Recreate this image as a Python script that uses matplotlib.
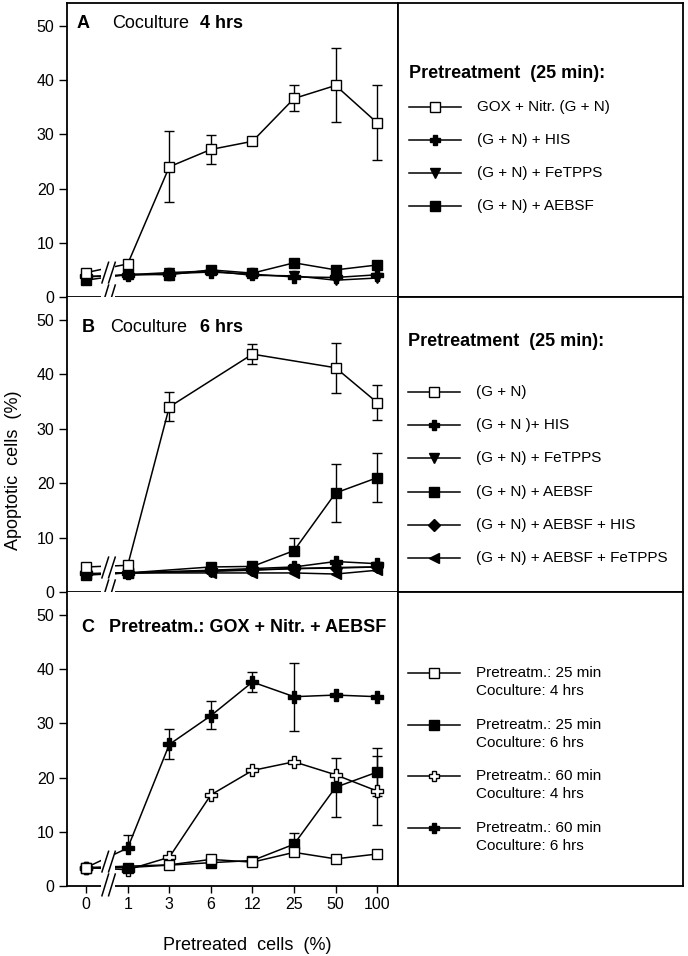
import matplotlib
matplotlib.use("Agg")
import matplotlib.pyplot as plt
from matplotlib.patches import Rectangle
import numpy as np

plt.rcParams['font.family'] = ['Liberation Sans', 'DejaVu Sans']

nan = np.nan
xlabels = ["0", "1", "3", "6", "12", "25", "50", "100"]

# Panel A: coculture 4 hrs
a_gn = [4.5, 6.1, 24.0, 27.2, 28.7, 36.6, 39.0, 32.1]
a_gn_lo = [nan, nan, 17.5, 24.6, nan, 34.3, 32.2, 25.2]
a_gn_hi = [nan, nan, 30.6, 29.8, nan, 39.0, 45.9, 39.0]
a_his = [3.8, 4.0, 4.3, 4.6, 4.2, 3.7, 3.6, 4.1]
a_fetpps = [3.7, 4.1, 4.5, 4.8, 4.0, 3.9, 3.1, 3.5]
a_aebsf = [3.1, 4.2, 4.1, 5.0, 4.4, 6.3, 5.0, 5.9]

# Panel B: coculture 6 hrs
b_gn = [4.6, 4.9, 34.0, nan, 43.7, nan, 41.2, 34.8]
b_gn_lo = [nan, nan, 31.4, nan, 41.9, nan, 36.6, 31.6]
b_gn_hi = [nan, nan, 36.7, nan, 45.5, nan, 45.8, 38.1]
b_his = [3.4, 3.5, nan, 4.0, 4.3, 4.6, 5.6, 5.2]
b_fetpps = [3.2, 3.5, nan, 3.8, 4.0, 4.3, 4.4, 4.6]
b_aebsf = [3.1, 3.5, nan, 4.6, 4.7, 7.6, 18.2, 21.0]
b_aebsf_lo = [nan, nan, nan, nan, nan, nan, 12.8, 16.5]
b_aebsf_hi = [nan, nan, nan, nan, nan, 10.0, 23.6, 25.5]
b_aebsf_his = [3.3, 3.5, nan, 3.9, 4.1, 4.3, 4.5, 4.6]
b_aebsf_fetpps = [3.3, 3.5, nan, 3.5, 3.5, 3.5, 3.3, 4.0]

# Panel C: GOX + Nitr. + AEBSF
c_25_4 = [3.4, nan, 3.9, 4.9, 4.4, 6.2, 5.0, 5.9]
c_25_6 = [3.3, 3.4, nan, 4.3, 4.7, 7.7, 18.2, 21.0]
c_25_6_lo = [nan, nan, nan, nan, nan, nan, 12.7, 16.5]
c_25_6_hi = [nan, nan, nan, nan, nan, 9.8, 23.6, 25.4]
c_60_4 = [3.4, 3.0, 5.3, 16.8, 21.3, 22.9, 20.5, 17.5]
c_60_4_lo = [nan, nan, nan, nan, nan, nan, nan, 11.2]
c_60_4_hi = [nan, nan, nan, nan, nan, nan, nan, 24.0]
c_60_6 = [3.4, 7.0, 26.1, 31.4, 37.6, 34.9, 35.2, 34.9]
c_60_6_lo = [nan, nan, 23.5, 29.0, 35.7, 28.6, nan, nan]
c_60_6_hi = [nan, 9.4, 29.0, 34.1, 39.5, 41.2, nan, nan]

W, H = 688, 956
fig = plt.figure(figsize=(W / 100, H / 100), dpi=100)


def box(l, t, r, b):
    return [l / W, 1 - b / H, (r - l) / W, (b - t) / H]


STY = {
    'open_sq': dict(marker='s', mfc='white', ms=7.5),
    'sq': dict(marker='s', mfc='black', ms=7.5),
    'cross': dict(marker='P', mfc='black', ms=8.5),
    'open_cross': dict(marker='P', mfc='white', ms=8.5),
    'tri_down': dict(marker='v', mfc='black', ms=7.5),
    'diamond': dict(marker='D', mfc='black', ms=6.5),
    'tri_left': dict(marker='<', mfc='black', ms=7.5),
}


def series(ax, y, style, lo=None, hi=None):
    y = np.array(y, dtype=float)
    x = np.arange(len(y))
    m = np.isfinite(y)
    if lo is not None:
        lo = np.array(lo, dtype=float)
        hi = np.array(hi, dtype=float)
        dlo = np.where(np.isfinite(lo), y - lo, 0)
        dhi = np.where(np.isfinite(hi), hi - y, 0)
        e = np.isfinite(lo) | np.isfinite(hi)
        ax.errorbar(x[e], y[e], yerr=[dlo[e], dhi[e]], fmt='none', ecolor='k',
                    elinewidth=1.0, capsize=3.5, capthick=1.0, zorder=2)
    ax.plot(x[m], y[m], color='k', lw=1.1, mec='k', mew=1.0, zorder=3,
            **STY[style])


def setup(ax, top_spine=True, labels=False):
    ax.set_xlim(-0.46, 7.5)
    ax.set_ylim(0, 54.2)
    ax.set_xticks(range(len(xlabels)))
    ax.set_xticklabels(xlabels if labels else [])
    ax.set_yticks([0, 10, 20, 30, 40, 50])
    ax.tick_params(direction='out', length=5, width=1.0, labelsize=11.5, pad=3)
    ax.tick_params(axis='y', length=6)
    for s in ax.spines.values():
        s.set_linewidth(1.3)
    ax.spines['top'].set_visible(top_spine)
    # axis break between 0 and 1
    ax.add_patch(Rectangle((0.36, -1.3), 0.34, 8.5, facecolor='white',
                           edgecolor='none', zorder=5, clip_on=False))
    for xb in (0.38, 0.54):
        for y0, y1 in ((-1.8, 2.2), (2.6, 6.4)):
            ax.plot([xb, xb + 0.16], [y0, y1], color='k', lw=1.1, zorder=6,
                    clip_on=False)


def legend_ax(t, b):
    lax = fig.add_axes(box(398, t, 683, b))
    lax.set_xlim(398, 683)
    lax.set_ylim(b, t)
    lax.set_xticks([])
    lax.set_yticks([])
    for s in lax.spines.values():
        s.set_linewidth(1.3)
    return lax


def entry(lax, y, style, text, x0=409):
    lax.plot([x0, x0 + 52], [y, y], color='k', lw=1.1)
    st = dict(STY[style])
    st['ms'] = st['ms'] * 0.9
    lax.plot([x0 + 26], [y], color='k', mec='k', mew=1.0, **st)
    if isinstance(text, str):
        lax.text(x0 + 68, y, text, fontsize=11, va='center', ha='left')
    else:
        lax.text(x0 + 68, y, text[0], fontsize=11, va='center', ha='left')
        lax.text(x0 + 68, y + 18, text[1], fontsize=11, va='center', ha='left')


# ---- Panel A
axA = fig.add_axes(box(67, 3, 398, 297))
setup(axA)
series(axA, a_his, 'cross')
series(axA, a_fetpps, 'tri_down')
series(axA, a_aebsf, 'sq')
series(axA, a_gn, 'open_sq', a_gn_lo, a_gn_hi)
fig.text(77 / W, 1 - 24 / H, "A", fontsize=13, fontweight='bold', va='center')
fig.text(112 / W, 1 - 24 / H, "Coculture", fontsize=13, va='center')
fig.text(200 / W, 1 - 24 / H, "4 hrs", fontsize=13, fontweight='bold', va='center')

lA = legend_ax(3, 297)
lA.text(409, 74, "Pretreatment  (25 min):", fontsize=13, fontweight='bold', va='center')
entry(lA, 107, 'open_sq', "GOX + Nitr. (G + N)")
entry(lA, 140, 'cross', "(G + N) + HIS")
entry(lA, 173, 'tri_down', "(G + N) + FeTPPS")
entry(lA, 206, 'sq', "(G + N) + AEBSF")

# ---- Panel B
axB = fig.add_axes(box(67, 297, 398, 592))
setup(axB, top_spine=False)
series(axB, b_aebsf_fetpps, 'tri_left')
series(axB, b_aebsf_his, 'diamond')
series(axB, b_fetpps, 'tri_down')
series(axB, b_his, 'cross')
series(axB, b_aebsf, 'sq', b_aebsf_lo, b_aebsf_hi)
series(axB, b_gn, 'open_sq', b_gn_lo, b_gn_hi)
fig.text(82 / W, 1 - 328 / H, "B", fontsize=13, fontweight='bold', va='center')
fig.text(110 / W, 1 - 328 / H, "Coculture", fontsize=13, va='center')
fig.text(200 / W, 1 - 328 / H, "6 hrs", fontsize=13, fontweight='bold', va='center')

lB = legend_ax(297, 592)
lB.text(408, 342, "Pretreatment  (25 min):", fontsize=13, fontweight='bold', va='center')
entry(lB, 392, 'open_sq', "(G + N)", x0=408)
entry(lB, 425, 'cross', "(G + N )+ HIS", x0=408)
entry(lB, 458, 'tri_down', "(G + N) + FeTPPS", x0=408)
entry(lB, 492, 'sq', "(G + N) + AEBSF", x0=408)
entry(lB, 525, 'diamond', "(G + N) + AEBSF + HIS", x0=408)
entry(lB, 558, 'tri_left', "(G + N) + AEBSF + FeTPPS", x0=408)

# ---- Panel C
axC = fig.add_axes(box(67, 592, 398, 886))
setup(axC, top_spine=False, labels=True)
series(axC, c_60_4, 'open_cross', c_60_4_lo, c_60_4_hi)
series(axC, c_60_6, 'cross', c_60_6_lo, c_60_6_hi)
series(axC, c_25_6, 'sq', c_25_6_lo, c_25_6_hi)
series(axC, c_25_4, 'open_sq')
fig.text(81 / W, 1 - 627 / H, "C", fontsize=13, fontweight='bold', va='center')
fig.text(109 / W, 1 - 627 / H, "Pretreatm.: GOX + Nitr. + AEBSF", fontsize=13,
         fontweight='bold', va='center')

lC = legend_ax(592, 886)
entry(lC, 673, 'open_sq', ("Pretreatm.: 25 min", "Coculture: 4 hrs"), x0=408)
entry(lC, 725, 'sq', ("Pretreatm.: 25 min", "Coculture: 6 hrs"), x0=408)
entry(lC, 776, 'open_cross', ("Pretreatm.: 60 min", "Coculture: 4 hrs"), x0=408)
entry(lC, 828, 'cross', ("Pretreatm.: 60 min", "Coculture: 6 hrs"), x0=408)

fig.text(14 / W, 1 - 470 / H, "Apoptotic  cells  (%)", fontsize=13, rotation=90,
         ha='center', va='center')
fig.text(247 / W, 1 - 945 / H, "Pretreated  cells  (%)", fontsize=13,
         ha='center', va='center')

fig.savefig("out.png", dpi=100, facecolor='white')
